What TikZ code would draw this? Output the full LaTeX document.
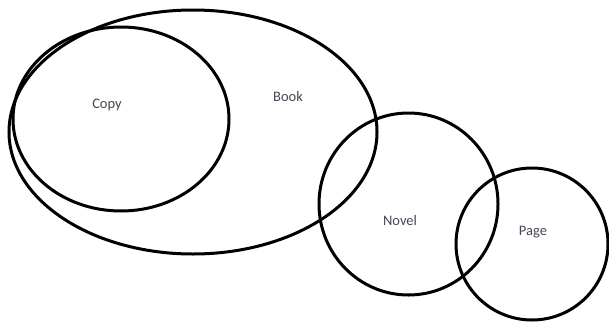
\documentclass[tikz,border=0pt]{standalone}
\usepackage{fontspec}
\setmainfont{Carlito}
\definecolor{lbl}{RGB}{70,70,85}
\begin{document}
\begin{tikzpicture}[x=1pt,y=-1pt,
  ring/.style={draw=black,line width=3pt},
  lab/.style={font=\fontsize{14.5}{16}\selectfont,text=lbl,inner sep=0pt}]
\useasboundingbox (0,0) rectangle (609,324);
\draw[ring] (193,132) ellipse [x radius=184, y radius=122];
\draw[ring] (121,119) ellipse [x radius=108, y radius=92];
\draw[ring] (408.5,204) ellipse [x radius=89.5, y radius=91];
\draw[ring] (532,244) ellipse [x radius=76, y radius=76];
\node[lab] (copy) at (107,105) {Copy};
\node[lab] (book) at (288,97) {Book};
\node[lab] (novel) at (400,221) {Novel};
\node[lab] (page) at (533,232) {Page};
\end{tikzpicture}
\end{document}
